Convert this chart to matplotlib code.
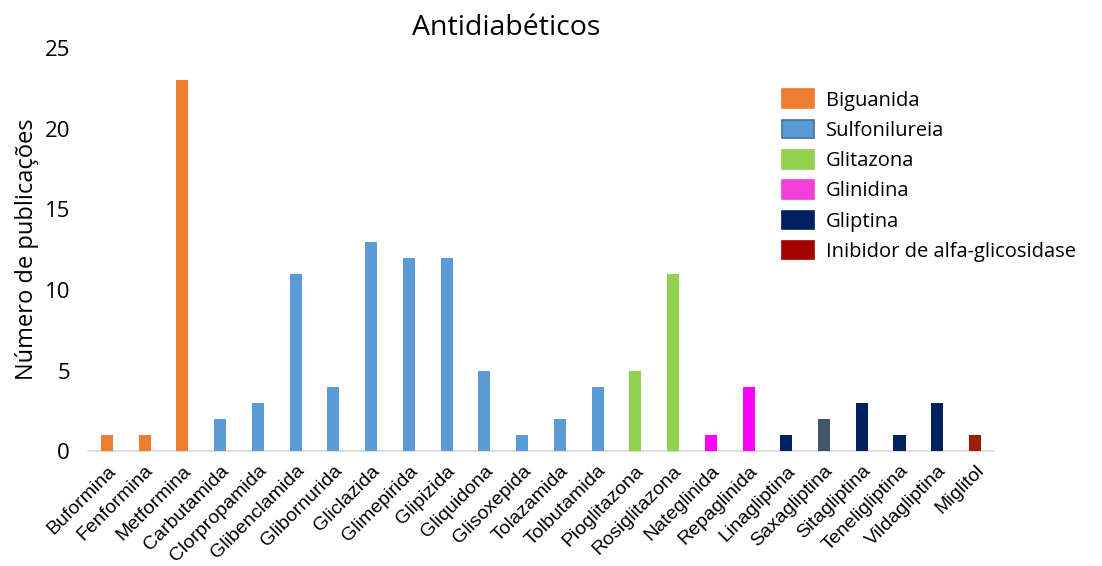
import matplotlib.pyplot as plt
from matplotlib.patches import Patch

# medicamentos e número de publicações
farmacos = ['Buformina', 'Fenformina', 'Metformina', 'Carbutamida', 'Clorpropamida',
            'Glibenclamida', 'Glibornurida', 'Gliclazida', 'Glimepirida', 'Glipizida',
            'Gliquidona', 'Glisoxepida', 'Tolazamida', 'Tolbutamida', 'Pioglitazona',
            'Rosiglitazona', 'Nateglinida', 'Repaglinida', 'Linagliptina', 'Saxagliptina',
            'Sitagliptina', 'Teneligliptina', 'Vildagliptina', 'Miglitol']
publicacoes = [1, 1, 23, 2, 3, 11, 4, 13, 12, 12, 5, 1, 2, 4, 5, 11, 1, 4, 1, 2, 3, 1, 3, 1]

classes = ['Biguanida', 'Sulfonilureia', 'Glitazona', 'Glinidina', 'Gliptina',
           'Inibidor de alfa-glicosidase']
cores_classe = ['#ED7D31', '#5B9BD5', '#92D050', '#F23FD8', '#002060', '#A50000']

cores = (['#ED7D31'] * 3 + ['#5B9BD5'] * 11 + ['#92D050'] * 2 +
         ['#FF00FF'] * 2 + ['#002060'] + ['#44546A'] + ['#002060'] * 3 + ['#9C1E00'])

fig = plt.figure(figsize=(11.02, 5.66), dpi=100)
ax = fig.add_axes([0.0799, 0.203, 0.822, 0.712])

x = range(len(farmacos))
ax.bar(x, publicacoes, width=0.32, color=cores, zorder=3)

ax.set_xlim(-0.5, len(farmacos) - 0.5)
ax.set_ylim(0, 25)
ax.set_yticks([0, 5, 10, 15, 20, 25])
ax.tick_params(axis='y', length=0, labelsize=16, pad=13)
for t in ax.get_yticklabels():
    t.set_fontfamily('Open Sans')
ax.set_xticks(list(x))
ax.set_xticklabels(farmacos, rotation=45, ha='right', rotation_mode='anchor',
                   fontsize=14, fontfamily='Liberation Sans')
ax.tick_params(axis='x', length=0, pad=8)

for s in ['top', 'right', 'left']:
    ax.spines[s].set_visible(False)
ax.spines['bottom'].set_color('#D9D9D9')
ax.spines['bottom'].set_linewidth(1.2)

ax.set_ylabel('Número de publicações', fontsize=17, fontfamily='Open Sans', labelpad=4)
fig.text(0.459, 0.950, 'Antidiabéticos', fontsize=20.5, fontfamily='Open Sans',
         ha='center', va='center')

handles = []
for nome, c in zip(classes, cores_classe):
    borda = '#41719C' if nome == 'Sulfonilureia' else c
    handles.append(Patch(facecolor=c, edgecolor=borda, linewidth=1.2, label=nome))
leg = fig.legend(handles=handles, loc='upper left', bbox_to_anchor=(0.693, 0.874),
                 frameon=False, prop={'family': 'Open Sans', 'size': 14.5},
                 handlelength=1.6, handleheight=1.05, handletextpad=0.6,
                 labelspacing=0.45)

fig.savefig('out.png', dpi=100)
